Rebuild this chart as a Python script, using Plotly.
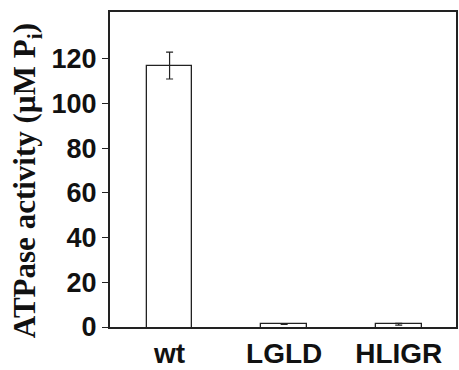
import plotly.graph_objects as go

categories = ["wt", "LGLD", "HLIGR"]
activity = [117, 1.2, 1.2]
errors = [6, 0, 0.4]
y_ticks = [0, 20, 40, 60, 80, 100, 120]
y_title = "ATPase activity (µM P<sub>i</sub>)"

fig = go.Figure()
fig.add_trace(go.Bar(
    x=categories, y=[v + 1 for v in activity], base=-1,
    customdata=activity,
    width=0.4,
    marker=dict(color="white", line=dict(color="#222", width=1.3)),
    error_y=dict(type="data", array=errors, visible=True, color="#222", thickness=1.2, width=3.5),
))

fig.update_layout(
    width=459, height=370,
    margin=dict(l=110, r=1, t=12, b=41),
    plot_bgcolor="white", paper_bgcolor="white",
    showlegend=False,
    bargap=0,
)
fig.update_xaxes(
    type="category", range=[-0.52, 2.5],
    showline=True, linecolor="#222", linewidth=2, mirror=True,
    ticks="", showgrid=False, zeroline=False,
    tickfont=dict(family="Liberation Sans", size=28, color="#111", weight="bold"),
)
fig.update_yaxes(
    range=[0, 141], tickvals=y_ticks,
    showline=True, linecolor="#222", linewidth=2, mirror=True,
    ticks="outside", ticklen=6, tickwidth=1, tickcolor="#222",
    showgrid=False, zeroline=False,
    tickfont=dict(family="Liberation Sans", size=27, color="#111", weight="bold"),
)
fig.add_annotation(
    text=y_title, textangle=-90,
    xref="paper", yref="paper", x=-0.241, y=0.465,
    xanchor="center", yanchor="middle", showarrow=False,
    font=dict(family="Liberation Serif", size=31, color="#111", weight="bold"),
)

fig.write_html("out.html")
